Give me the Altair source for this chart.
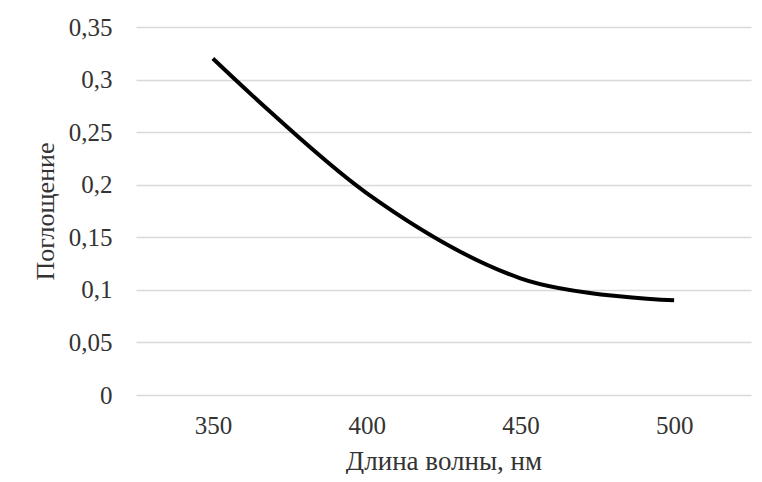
import altair as alt
import pandas as pd

wavelength = [350, 400, 450, 500]
absorbance = [0.32, 0.192, 0.111, 0.09]
x_ticks = [350, 400, 450, 500]
y_ticks = [0, 0.05, 0.1, 0.15, 0.2, 0.25, 0.3, 0.35]

df = pd.DataFrame({"wl": wavelength, "a": absorbance})

FONT = "Liberation Serif"

chart = alt.Chart(df).mark_line(
    interpolate="cardinal", tension=0, color="black", strokeWidth=4
).encode(
    x=alt.X(
        "wl:Q",
        scale=alt.Scale(domain=[325, 525], nice=False, zero=False),
        axis=alt.Axis(values=x_ticks, title="Длина волны, нм", grid=False, domain=False,
                      ticks=False, labelPadding=18, titlePadding=10, format="d",
                      titleFontSize=27),
    ),
    y=alt.Y(
        "a:Q",
        scale=alt.Scale(domain=[0, 0.35], nice=False),
        axis=alt.Axis(values=y_ticks, title="Поглощение", grid=True, domain=False,
                      ticks=False, labelPadding=24, titlePadding=10, titleFontSize=26,
                      labelExpr="replace(format(datum.value, '.2~f'), '.', ',')"),
    ),
).properties(
    width=615, height=368,
    padding={"left": 128, "top": 19, "right": 3, "bottom": 79},
    autosize="none",
).configure_axis(
    labelFont=FONT, titleFont=FONT, labelFontSize=25,
    labelColor="#333333", titleColor="#333333", titleFontWeight="normal",
    gridColor="#d9d9d9", gridWidth=1.3,
).configure_view(stroke=None)

chart.save("out.html", embed_options={"renderer": "svg", "actions": False})
